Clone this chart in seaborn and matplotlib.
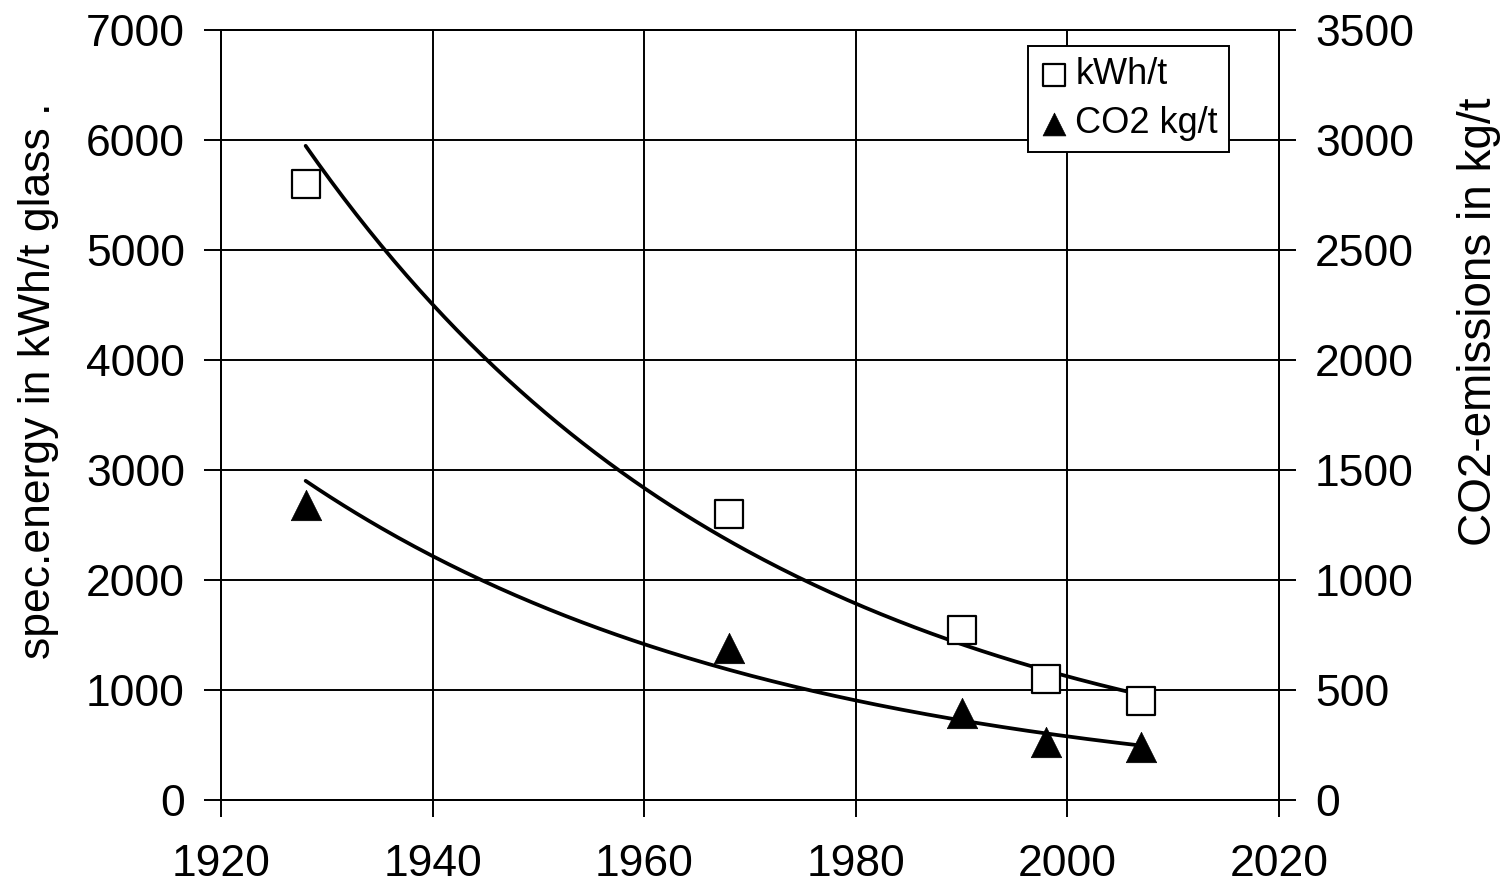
import numpy as np
import pandas as pd
import matplotlib
matplotlib.use("Agg")
import matplotlib.pyplot as plt
import seaborn as sns

# data
years = [1928, 1968, 1990, 1998, 2007]
energy_kwh = [5600, 2600, 1550, 1100, 900]
co2_kg = [1340, 690, 395, 265, 240]

x_ticks = [1920, 1940, 1960, 1980, 2000, 2020]
left_ticks = list(range(0, 7001, 1000))
right_ticks = list(range(0, 3501, 500))


def exp_trend(x, y, n=200):
    # exponential trendline: least squares on ln(y), drawn over the data range
    b, a = np.polyfit(x, np.log(y), 1)
    xs = np.linspace(min(x), max(x), n)
    return pd.DataFrame({"year": xs, "value": np.exp(a + b * xs)})


df = pd.DataFrame({"year": years, "kwh": energy_kwh, "co2": co2_kg})

sns.set_style("ticks")
plt.rcParams["font.family"] = ["Liberation Sans", "DejaVu Sans"]
plt.rcParams["axes.linewidth"] = 1.4
plt.rcParams["text.color"] = "black"
plt.rcParams["axes.labelcolor"] = "black"

fig = plt.figure(figsize=(15.03, 8.88), dpi=100)
ax = fig.add_axes([221 / 1503, 1 - 800 / 888, (1279 - 221) / 1503, 770 / 888])
ax2 = ax.twinx()

sns.lineplot(data=exp_trend(years, energy_kwh), x="year", y="value", color="black",
             linewidth=2.7, ax=ax, legend=False, zorder=3)
sns.scatterplot(data=df, x="year", y="kwh", marker="s", s=420, color="white",
                edgecolor="black", linewidth=1.6, ax=ax, label="kWh/t", zorder=4)

sns.lineplot(data=exp_trend(years, co2_kg), x="year", y="value", color="black",
             linewidth=2.7, ax=ax2, legend=False, zorder=3)
sns.scatterplot(data=df, x="year", y="co2", marker="^", s=480, color="black",
                edgecolor="black", linewidth=0.5, ax=ax2, label="CO2 kg/t", zorder=4)

ax.set_xlim(1920, 2020)
ax.set_ylim(0, 7000)
ax2.set_ylim(0, 3500)
ax.set_xticks(x_ticks)
ax.set_yticks(left_ticks)
ax2.set_yticks(right_ticks)

ax.grid(True, color="black", linewidth=1.4)
ax.set_axisbelow(True)

for a in (ax, ax2):
    a.tick_params(axis="both", direction="out", length=12, width=1.4, labelsize=32,
                  colors="black", pad=14)
    for s in a.spines.values():
        s.set_color("black")
        s.set_linewidth(1.4)
ax.tick_params(axis="x", pad=20)

ax.set_xlabel("")
ax.set_ylabel("spec.energy in kWh/t glass .", fontsize=32, color="black")
ax2.set_ylabel("CO2-emissions in kg/t", fontsize=33, color="black")
ax.yaxis.set_label_coords(-0.153, 0.545)
ax2.yaxis.set_label_coords(1.168, 0.621)

h1, l1 = ax.get_legend_handles_labels()
h2, l2 = ax2.get_legend_handles_labels()
if ax.get_legend():
    ax.get_legend().remove()
if ax2.get_legend():
    ax2.get_legend().remove()
leg = ax2.legend(h1 + h2, l1 + l2, loc="upper left", bbox_to_anchor=(0.763, 0.979),
                 borderaxespad=0, fontsize=26, frameon=True, fancybox=False,
                 framealpha=1, edgecolor="black", markerscale=0.75,
                 handlelength=0.8, handletextpad=0.2, borderpad=0.3, labelspacing=0.4)
leg.get_frame().set_linewidth(1.4)
for t in leg.get_texts():
    t.set_color("black")

fig.savefig("out.png", dpi=100, facecolor="white")
